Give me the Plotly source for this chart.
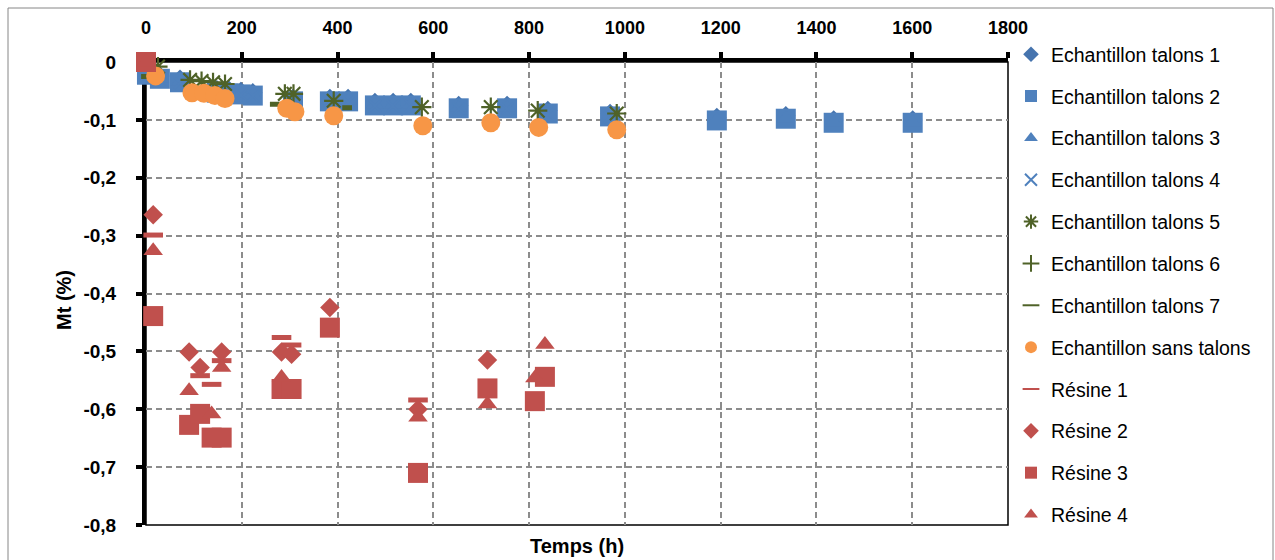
import plotly.graph_objects as go

# ---------------- data ----------------
talons2_x = [2, 29, 71, 148, 173, 198, 223, 307, 384, 422, 478, 516, 553, 653, 754, 839, 969, 1192, 1336, 1436, 1601]
talons2_y = [-0.022, -0.029, -0.035, -0.053, -0.054, -0.056, -0.058, -0.068, -0.068, -0.068, -0.075, -0.075, -0.075,
             -0.080, -0.080, -0.089, -0.094, -0.101, -0.098, -0.105, -0.105]

talons1_x = [2, 29, 71, 148, 173, 198, 223, 307, 384, 422, 478, 516, 553, 653, 754, 839, 969, 1192, 1336, 1436, 1601]
talons1_y = [-0.017, -0.024, -0.030, -0.048, -0.049, -0.051, -0.053, -0.063, -0.063, -0.063, -0.070, -0.070, -0.070,
             -0.075, -0.075, -0.084, -0.089, -0.096, -0.093, -0.100, -0.100]

talons3_x = [2, 29, 71, 148, 173, 198, 223, 307, 384, 422, 478, 516, 553, 653, 754, 839, 969, 1192, 1336, 1436, 1601]
talons3_y = [-0.021, -0.028, -0.034, -0.052, -0.053, -0.055, -0.057, -0.067, -0.067, -0.067, -0.074, -0.074, -0.074,
             -0.079, -0.079, -0.088, -0.093, -0.100, -0.097, -0.104, -0.104]

talons4_x = [2, 29, 71, 148, 173, 198, 223, 307, 384, 422, 478, 516, 553, 653, 754, 839, 969]
talons4_y = [-0.023, -0.030, -0.036, -0.054, -0.055, -0.057, -0.059, -0.069, -0.069, -0.069, -0.076, -0.076, -0.076,
             -0.081, -0.081, -0.090, -0.095]

talons5_x = [25, 92, 116, 140, 165, 290, 308, 392, 576, 720, 818, 983]
talons5_y = [-0.008, -0.031, -0.033, -0.035, -0.038, -0.055, -0.055, -0.067, -0.078, -0.078, -0.084, -0.089]

talons6_x = [20, 96, 121, 144, 165, 294, 311, 392, 578, 720, 820, 983]
talons6_y = [-0.023, -0.052, -0.053, -0.057, -0.062, -0.079, -0.085, -0.092, -0.109, -0.104, -0.112, -0.116]

talons7_x = [0, 269, 420]
talons7_y = [-0.025, -0.073, -0.079]

sans_x = [0, 20, 96, 121, 144, 165, 294, 311, 392, 578, 720, 820, 983]
sans_y = [0.0, -0.024, -0.053, -0.054, -0.058, -0.063, -0.080, -0.086, -0.093, -0.110, -0.105, -0.113, -0.117]

res1_x = [0, 15, 113, 137, 158, 283, 304, 568]
res1_y = [0.0, -0.299, -0.542, -0.557, -0.516, -0.476, -0.489, -0.584]

res2_x = [0, 15, 90, 113, 158, 283, 304, 384, 568, 713]
res2_y = [0.0, -0.264, -0.501, -0.528, -0.501, -0.501, -0.505, -0.424, -0.600, -0.515]

res3_x = [0, 15, 90, 113, 137, 158, 283, 304, 384, 568, 713, 812, 833]
res3_y = [0.0, -0.439, -0.627, -0.608, -0.649, -0.649, -0.565, -0.565, -0.459, -0.710, -0.564, -0.586, -0.544]

res4_x = [0, 15, 90, 137, 158, 283, 568, 713, 812, 833]
res4_y = [0.0, -0.326, -0.568, -0.608, -0.528, -0.545, -0.614, -0.591, -0.546, -0.488]

y_tickvals = [0, -0.1, -0.2, -0.3, -0.4, -0.5, -0.6, -0.7, -0.8]
y_ticktext = ["0", "-0,1", "-0,2", "-0,3", "-0,4", "-0,5", "-0,6", "-0,7", "-0,8"]

# ---------------- styling ----------------
BLUE = "#4F81BD"
BLUE_D = "#4674AE"
GREEN = "#4F6228"
ORANGE = "#F79646"
RED = "#C0504D"
FONT = "Liberation Sans"

series = [
    ("Echantillon talons 1", talons1_x, talons1_y, dict(symbol="diamond", size=15, color=BLUE_D)),
    ("Echantillon talons 2", talons2_x, talons2_y, dict(symbol="square", size=20, color=BLUE)),
    ("Echantillon talons 3", talons3_x, talons3_y, dict(symbol="triangle-up", size=16, color=BLUE)),
    ("Echantillon talons 4", talons4_x, talons4_y, dict(symbol="x-thin", size=12, color=BLUE,
                                                         line=dict(width=2, color=BLUE))),
    ("Echantillon talons 5", talons5_x, talons5_y, dict(symbol="asterisk", size=16, color=GREEN,
                                                         line=dict(width=2.2, color=GREEN))),
    ("Echantillon talons 6", talons6_x, talons6_y, dict(symbol="cross-thin", size=10, color=GREEN,
                                                         line=dict(width=2, color=GREEN))),
    ("Echantillon talons 7", talons7_x, talons7_y, dict(symbol="line-ew", size=7, color=GREEN,
                                                         line=dict(width=5, color=GREEN))),
    ("Echantillon sans talons", sans_x, sans_y, dict(symbol="circle", size=19, color=ORANGE)),
    ("Résine 1", res1_x, res1_y, dict(symbol="line-ew", size=14, color=RED, line=dict(width=5, color=RED))),
    ("Résine 2", res2_x, res2_y, dict(symbol="diamond", size=15, color=RED)),
    ("Résine 3", res3_x, res3_y, dict(symbol="square", size=20, color=RED)),
    ("Résine 4", res4_x, res4_y, dict(symbol="triangle-up", size=17, color=RED)),
]

fig = go.Figure()
for i, (name, xs, ys, mk) in enumerate(series):
    m = dict(mk)
    if "line" not in m:
        m["line"] = dict(width=0)
    fig.add_trace(go.Scatter(x=xs, y=ys, mode="markers", name=name, marker=m,
                             legendgroup="g%d" % i, cliponaxis=False))

W, H = 1275, 560
L, R, T, B = 146, 1275 - 1008, 62, 560 - 525
pw, ph = W - L - R, H - T - B

grid = dict(showgrid=True, gridcolor="#8C8C8C", gridwidth=1.5, griddash="6px,4px")

fig.update_layout(
    width=W, height=H,
    margin=dict(l=L, r=R, t=T, b=B, pad=0),
    paper_bgcolor="white", plot_bgcolor="white",
    font=dict(family=FONT, color="black"),
    separators=",.",
    showlegend=True,
    legend=dict(x=(1011 - L) / pw, xanchor="left", y=(525 - 35) / ph, yanchor="top",
                font=dict(family=FONT, size=19.5, color="black"),
                itemsizing="constant", tracegroupgap=13.5, bgcolor="rgba(0,0,0,0)",
                maxheight=550),
    xaxis=dict(range=[0, 1800], dtick=200, tick0=0, side="top", **grid,
               showline=True, linecolor="black", linewidth=4, zeroline=False,
               ticks="outside", ticklen=6, tickwidth=4, tickcolor="black",
               ticklabelstandoff=11,
               tickfont=dict(family=FONT, size=18, color="black", weight="bold"),
               layer="below traces"),
    yaxis=dict(range=[-0.8, 0], tickvals=y_tickvals, ticktext=y_ticktext, **grid,
               showline=True, linecolor="black", linewidth=4, zeroline=False,
               ticks="outside", ticklen=6, tickwidth=4, tickcolor="black",
               ticklabelstandoff=16,
               tickfont=dict(family=FONT, size=19, color="black", weight="bold"),
               layer="below traces"),
    annotations=[
        dict(text="<b>Temps (h)</b>", xref="paper", yref="paper", x=0.5, y=-(546 - 525) / ph,
             xanchor="center", yanchor="middle", showarrow=False,
             font=dict(family=FONT, size=20, color="black")),
        dict(text="<b>Mt (%)</b>", xref="paper", yref="paper", x=(64 - L) / pw, y=(525 - 300) / ph,
             xanchor="center", yanchor="middle", showarrow=False, textangle=-90,
             font=dict(family=FONT, size=20, color="black")),
    ],
    shapes=[
        dict(type="rect", xref="paper", yref="paper", x0=0, x1=1, y0=0, y1=1,
             line=dict(color="black", width=1.5), layer="below"),
        dict(type="rect", xref="paper", yref="paper", x0=(8 - L) / pw, x1=(1273 - L) / pw,
             y0=-(600 - 525) / ph, y1=(525 - 8) / ph,
             line=dict(color="#868686", width=1), layer="below"),
    ],
)

fig.write_html("out.html", config={"displayModeBar": False},
               post_script="document.body.style.margin='0px';document.body.style.overflow='hidden';")
